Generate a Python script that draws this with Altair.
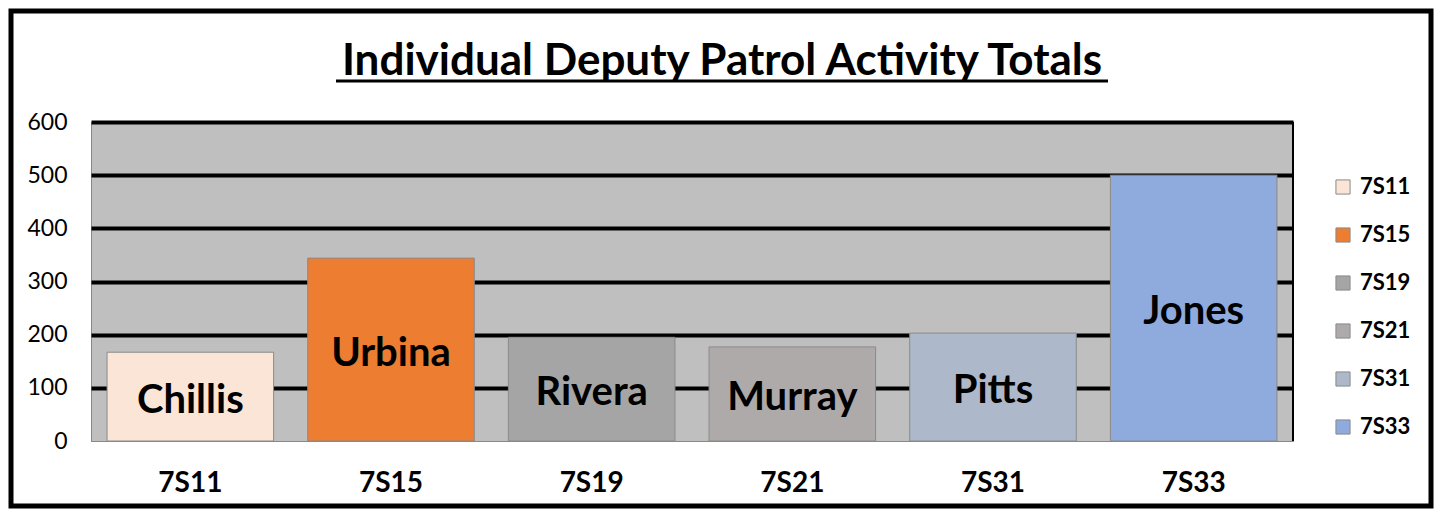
import altair as alt
import pandas as pd

ids = ["7S11", "7S15", "7S19", "7S21", "7S31", "7S33"]
names = ["Chillis", "Urbina", "Rivera", "Murray", "Pitts", "Jones"]
totals = [167, 344, 195, 177, 203, 500]
colors = ["#fbe5d6", "#ed7d31", "#a5a5a5", "#aeaaaa", "#adb9ca", "#8faadc"]
title_text = "Individual Deputy Patrol Activity Totals"

W, H = 1202, 319
FONT = "Lato"

df = pd.DataFrame({"id": ids, "name": names, "total": totals})
df["half"] = df["total"] / 2

x_enc = alt.X("id:N", sort=ids, title=None,
              scale=alt.Scale(paddingInner=0.17, paddingOuter=0.08),
              axis=alt.Axis(labelFont=FONT, labelFontWeight="bold", labelFontSize=28,
                            labelColor="black", labelAngle=0, ticks=False,
                            labelPadding=28, domainColor="#888888", domainWidth=1))
y_scale = alt.Scale(domain=[0, 600])

bars = alt.Chart(df).mark_bar(stroke="#8a8a8a", strokeWidth=1).encode(
    x=x_enc,
    y=alt.Y("total:Q", scale=y_scale, title=None,
            axis=alt.Axis(values=[0, 100, 200, 300, 400, 500, 600], labelFont=FONT,
                          labelFontSize=23, labelColor="black", ticks=False, domain=False,
                          labelPadding=24,
                          gridColor=alt.condition("datum.value == 0", alt.value("#888888"), alt.value("black")),
                          gridWidth=alt.condition("datum.value == 0", alt.value(1), alt.value(4)),
                          gridOpacity=1)),
    color=alt.Color("id:N", sort=ids, scale=alt.Scale(domain=ids, range=colors),
                    legend=alt.Legend(title=None, orient="none", legendX=1241, legendY=54,
                                      symbolType="square", symbolSize=200,
                                      symbolStrokeColor="#8a8a8a", symbolStrokeWidth=1,
                                      labelFont=FONT, labelFontWeight="bold", labelFontSize=22,
                                      labelColor="black", rowPadding=26, labelOffset=6)),
)

labels = alt.Chart(df).mark_text(font=FONT, fontWeight="bold", fontSize=40, color="black",
                                 baseline="middle", dy=4).encode(
    x=alt.X("id:N", sort=ids),
    y=alt.Y("half:Q", scale=y_scale),
    text="name:N",
)

one = pd.DataFrame({"t": [title_text]})
title = alt.Chart(one).mark_text(font=FONT, fontWeight="bold", fontSize=44, color="black",
                                 baseline="alphabetic", align="center").encode(
    x=alt.value(631), y=alt.value(-47), text="t:N")
right_edge = alt.Chart(one).mark_rule(color="black", strokeWidth=2).encode(
    x=alt.value(W), y=alt.value(0), y2=alt.value(H))
underline = alt.Chart(one).mark_rule(color="black", strokeWidth=3).encode(
    x=alt.value(245), x2=alt.value(1017), y=alt.value(-41))
border = alt.Chart(one).mark_rect(fill="transparent", stroke="black", strokeWidth=5).encode(
    x=alt.value(-80), x2=alt.value(W + 138), y=alt.value(-111), y2=alt.value(H + 65))

chart = alt.layer(bars, labels, right_edge, title, underline, border).properties(
    width=W, height=H,
    background="white",
    autosize=alt.AutoSizeParams(type="none"),
    padding={"left": 83, "top": 114, "right": 141, "bottom": 68},
).configure_view(stroke="#888888", strokeWidth=1, fill="#bfbfbf")

chart.save("out.html", embed_options={"renderer": "svg", "actions": False})
